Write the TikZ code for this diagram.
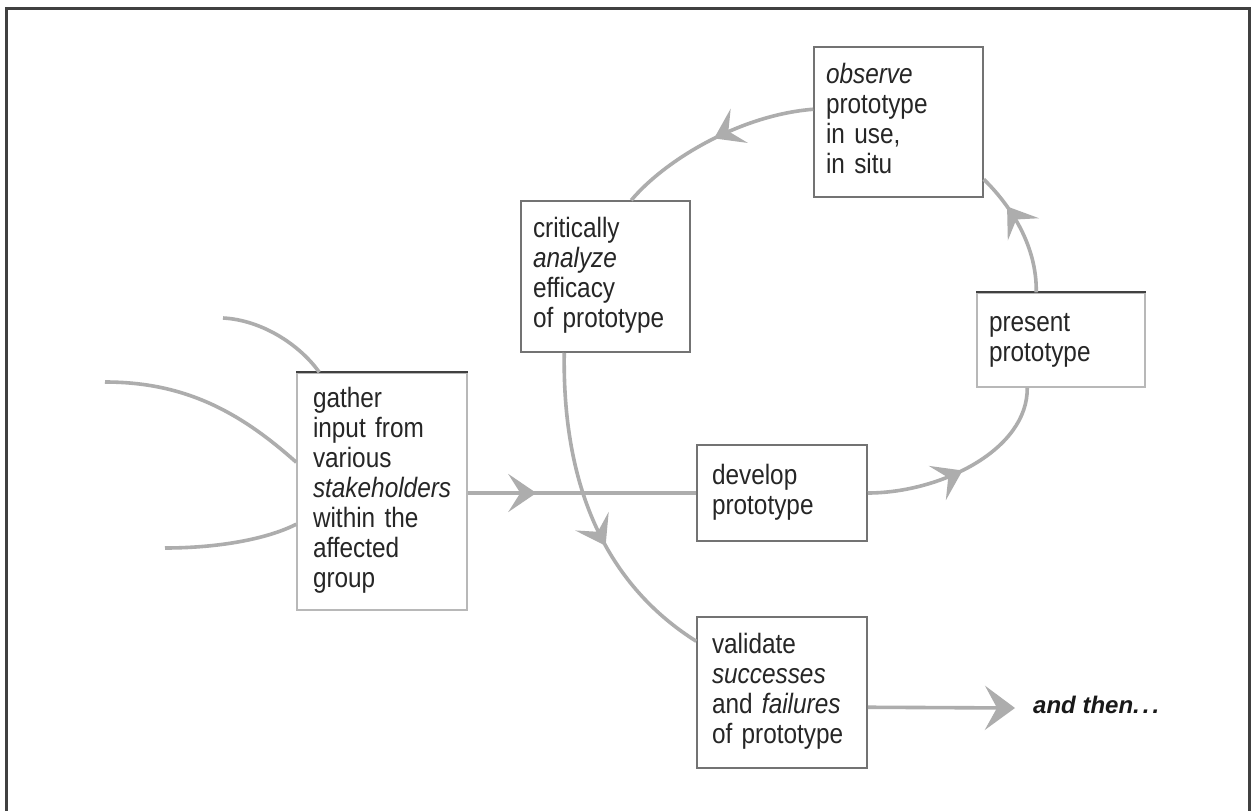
\documentclass[tikz,border=0pt]{standalone}
\usepackage{fontspec}
\setmainfont{Liberation Sans}[FakeStretch=0.87]
\newfontfamily\thenfont{Liberation Sans}
\usetikzlibrary{arrows.meta,decorations.markings,calc}
\begin{document}
\begin{tikzpicture}[x=1pt,y=-1pt,
  every node/.style={font=\fontsize{28}{30}\selectfont, text=black!85},
  box/.style={draw=black!55, line width=1.5pt, fill=white, inner ysep=0pt, align=left},
  lightbox/.style={box, draw=black!28},
  conn/.style={color=black!32, line width=3.6pt},
  tipmark/.style={postaction={decorate, decoration={markings,
      mark=at position #1 with {\arrow{Stealth[length=28pt,width=38pt,inset=12pt]}}}}},
  endtip/.style={-{Stealth[length=30pt,width=44pt,inset=12pt]}},
]
\useasboundingbox (0,0) rectangle (1251,811);
\fill[white] (0,0) rectangle (1251,811);
% frame
\draw[black!75, line width=3pt] (6.5,811) -- (6.5,8.7) -- (1249.5,8.7) -- (1249.5,811);

% boxes
\node[lightbox, text width=138pt, inner xsep=16pt, minimum height=237pt] (gather) at (382,491.5)
  {\strut gather\\ input from\\ various\\ \textit{stakeholders}\\ within the\\ affected\\ group\strut};
\node[box, text width=145pt, inner xsep=12pt, minimum height=151pt] (critically) at (605.5,276.5)
  {\strut critically\\ \textit{analyze}\\ efficacy\\ of prototype\strut};
\node[box, text width=145pt, inner xsep=12pt, minimum height=150pt] (observe) at (898.5,122)
  {\strut\textit{observe}\\ prototype\\ in use,\\ in situ\strut};
\node[lightbox, text width=144pt, inner xsep=12pt, minimum height=94pt] (present) at (1061,340)
  {\strut present\\ prototype\strut};
\node[box, text width=140pt, inner xsep=15pt, minimum height=96pt] (develop) at (782,493)
  {\strut develop\\ prototype\strut};
\node[box, text width=140pt, inner xsep=15pt, minimum height=151pt] (validate) at (782,692.5)
  {\strut validate\\ \textit{successes}\\ and \textit{failures}\\ of prototype\strut};
\node[anchor=base west, inner sep=0pt, font=\thenfont\fontsize{24}{28}\selectfont\bfseries\itshape, text=black!90]
  (then) at (1033,713) {and then.\kern3pt.\kern3pt.};

% darker top edges
\draw[black!75, line width=1.6pt] (gather.north west) -- (gather.north east);
\draw[black!75, line width=1.6pt] (present.north west) -- (present.north east);

% free ends
\coordinate (in1) at (223,318);
\coordinate (in2) at (105,382);
\coordinate (in3) at (165,548);
\coordinate (thentip) at (1015,708);

% anchor points on boxes
\coordinate (g1) at ($(gather.north west)+(23,0)$);
\coordinate (g2) at ($(gather.north west)+(0,90)$);
\coordinate (g3) at ($(gather.north west)+(0,152)$);
\coordinate (pb) at ($(present.south west)+(51,0)$);
\coordinate (pt) at ($(present.north west)+(60,0)$);
\coordinate (oe) at ($(observe.north east)+(0,133)$);
\coordinate (ow) at ($(observe.north west)+(0,63)$);
\coordinate (ct) at ($(critically.north west)+(111,0)$);
\coordinate (cb) at ($(critically.south west)+(44,0)$);
\coordinate (vw) at ($(validate.north west)+(0,25)$);
\coordinate (ve) at ($(validate.north east)+(0,91)$);

% connectors
\draw[conn] (in1) .. controls (262,320) and (300,345) .. (g1);
\draw[conn] (in2) .. controls (185,382) and (240,412) .. (g2);
\draw[conn] (in3) .. controls (215,548) and (265,540) .. (g3);
\draw[conn, tipmark=0.3] (gather.east |- develop.west) -- (develop.west);
\draw[conn, tipmark=0.47] (develop.east) .. controls (940,493) and (1028,450) .. (pb);
\draw[conn, tipmark=0.72] (pt) .. controls (1037,245) and (1010,205) .. (oe);
\draw[conn, tipmark=0.5] (ow) .. controls (740,115) and (665,160) .. (ct);
\draw[conn, tipmark=0.6] (cb) .. controls (562,500) and (615,590) .. (vw);
\draw[conn, endtip] (ve) -- (thentip);
\end{tikzpicture}
\end{document}
